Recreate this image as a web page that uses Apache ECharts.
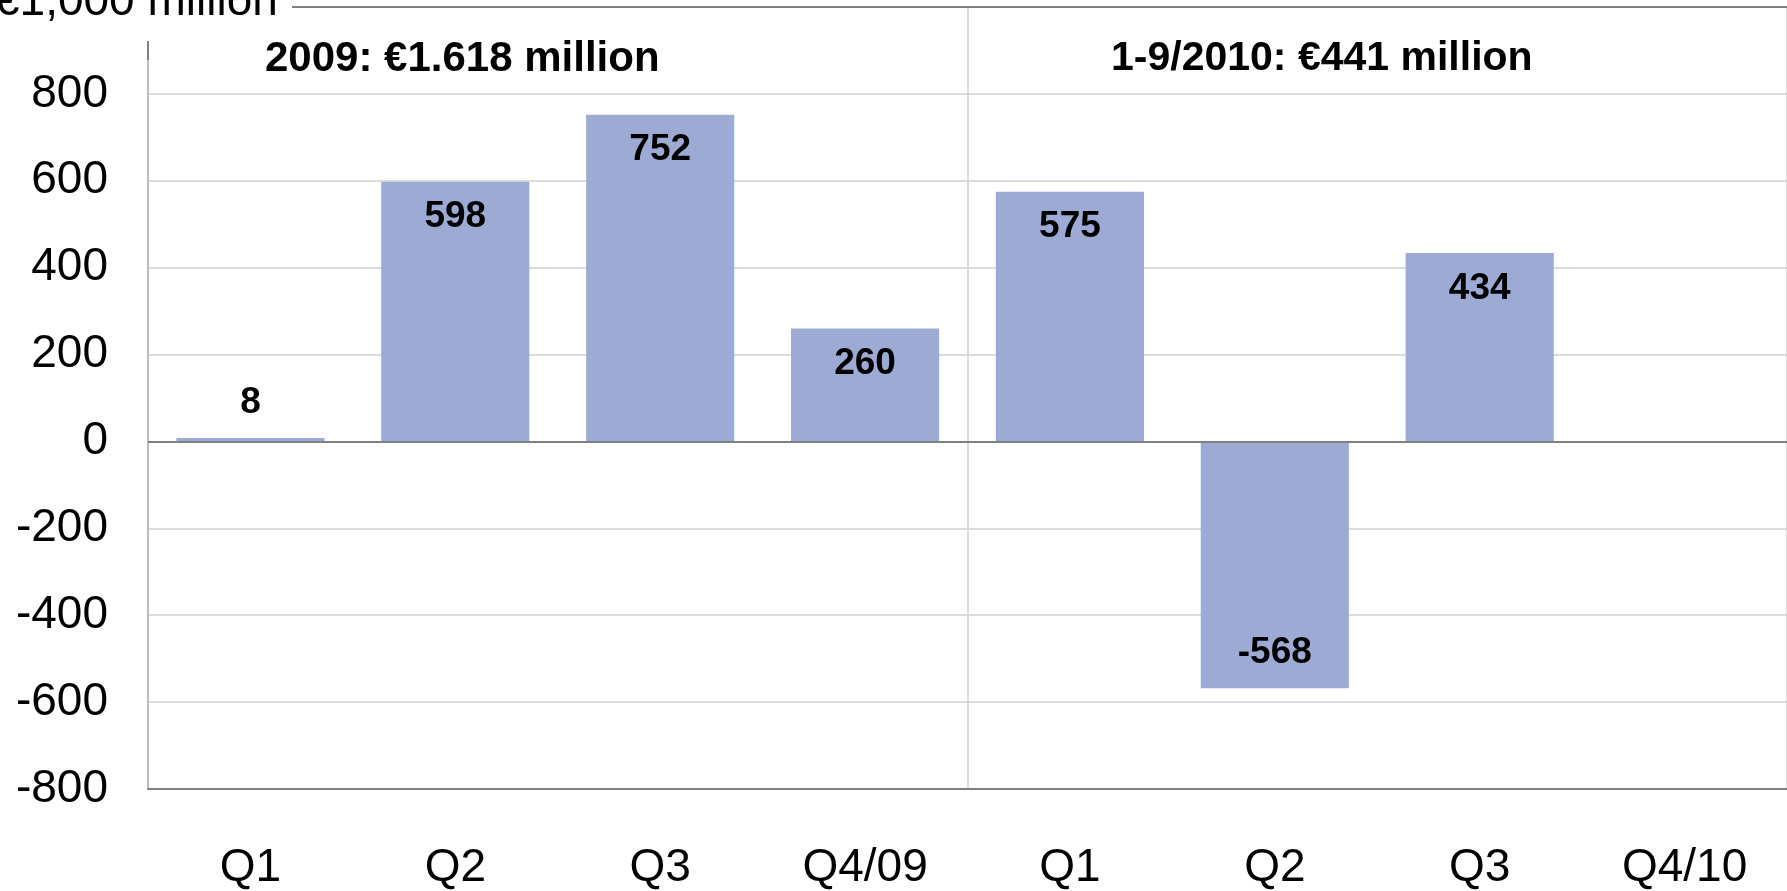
<!DOCTYPE html>
<html>
<head>
<meta charset="utf-8">
<script src="https://cdn.jsdelivr.net/npm/echarts@6/dist/echarts.min.js"></script>
<style>
html,body{margin:0;padding:0;background:#fff;}
#c{width:1787px;height:891px;}
</style>
</head>
<body>
<div id="c"></div>
<script>
var categories = ['Q1', 'Q2', 'Q3', 'Q4/09', 'Q1', 'Q2', 'Q3', 'Q4/10'];
var values = [8, 598, 752, 260, 575, -568, 434, null];
var yMin = -800, yMax = 1000, yStep = 200;
var unitLabel = '€1,000 million';
var header2009 = '2009: €1.618 million';
var header2010 = '1-9/2010: €441 million';
var dividerBefore = 4; // divider drawn before this category index

var FONT = '"Liberation Sans", Arial, sans-serif';
var AXIS = '#808080', GRIDC = '#d0d0d0', BAR = '#9dabd4';

var chart = echarts.init(document.getElementById('c'), null, {renderer: 'canvas'});
var barData = values.map(function (v) {
  if (v === null) return '-';
  return {value: v, label: {position: v < 0 ? 'insideBottom' : (v < 100 ? 'top' : 'insideTop')}};
});

chart.setOption({
  animation: false,
  backgroundColor: '#fff',
  grid: {left: 148, right: -8, top: 7, bottom: 96},
  xAxis: [{
    type: 'category', data: categories, position: 'bottom', z: 3,
    axisLine: {onZero: false, lineStyle: {color: AXIS, width: 2}},
    axisTick: {show: false},
    axisLabel: {fontFamily: FONT, fontSize: 46, color: '#000', margin: 56, interval: 0},
    splitLine: {show: false}
  }, {
    type: 'category', data: categories, position: 'top', z: 3,
    axisLine: {onZero: false, lineStyle: {color: AXIS, width: 2}},
    axisTick: {show: false},
    axisLabel: {show: false},
    splitLine: {show: true, interval: function (i) { return i === 0 || i === dividerBefore; },
      lineStyle: {color: GRIDC, width: 1.5}}
  }],
  yAxis: {
    type: 'value', min: yMin, max: yMax, interval: yStep, z: 1,
    axisLine: {show: true, lineStyle: {color: AXIS, width: 2}},
    axisTick: {show: false},
    axisLabel: {fontFamily: FONT, fontSize: 46, color: '#000', margin: 40,
      formatter: function (v) { return v === yMax ? '' : String(v); }},
    splitLine: {show: true, lineStyle: {color: GRIDC, width: 1.5}}
  },
  series: [{
    type: 'bar', data: barData, xAxisIndex: 0, z: 2,
    barCategoryGap: '27.7%',
    itemStyle: {color: BAR},
    label: {show: true, fontFamily: FONT, fontSize: 37, fontWeight: 'bold', color: '#000', distance: 17},
    markLine: {silent: true, symbol: 'none', label: {show: false}, z: 4,
      lineStyle: {color: AXIS, width: 2, type: 'solid'}, data: [{yAxis: 0}]}
  }],
  graphic: [
    {type: 'rect', z: 100, shape: {x: 0, y: 0, width: 292, height: 41}, style: {fill: '#fff'}},
    {type: 'line', z: 101, shape: {x1: 148, y1: 41, x2: 148, y2: 60}, style: {stroke: AXIS, lineWidth: 2}},
    {type: 'text', z: 101, x: -6, y: 2, style: {text: unitLabel, font: '46px ' + FONT, fill: '#000', verticalAlign: 'middle'}},
    {type: 'text', z: 101, x: 265, y: 59, style: {text: header2009, font: 'bold 42px ' + FONT, fill: '#000', verticalAlign: 'middle'}},
    {type: 'text', z: 101, x: 1111, y: 59, style: {text: header2010, font: 'bold 41px ' + FONT, fill: '#000', verticalAlign: 'middle'}}
  ]
});
</script>
</body>
</html>
